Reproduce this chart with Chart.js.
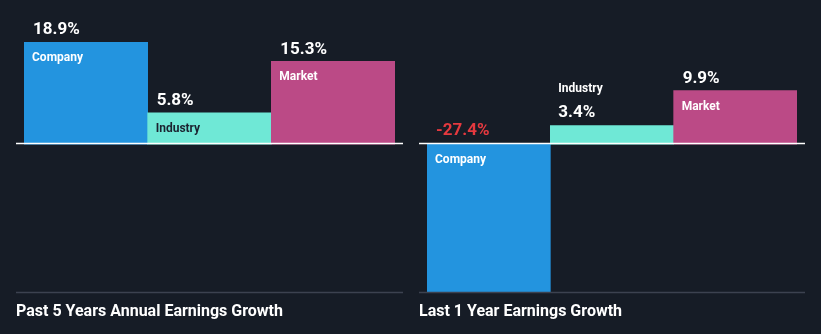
<!DOCTYPE html>
<html>
<head>
<meta charset="utf-8">
<script src="https://cdn.jsdelivr.net/npm/chart.js@4.4.0/dist/chart.umd.min.js"></script>
<style>
  html, body { margin: 0; padding: 0; background: #161c26; }
  #wrap { position: relative; width: 821px; height: 334px; }
  .box { position: absolute; top: 0; height: 334px; }
</style>
</head>
<body>
<div id="wrap">
  <div class="box" style="left:0;width:410px"><canvas id="pastChart"></canvas></div>
  <div class="box" style="left:410px;width:411px"><canvas id="lastChart"></canvas></div>
</div>
<script>
// данные
const categories = ['Company', 'Industry', 'Market'];
const past5Years = [18.9, 5.8, 15.3];
const last1Year = [-27.4, 3.4, 9.9];
const titles = ['Past 5 Years Annual Earnings Growth', 'Last 1 Year Earnings Growth'];
const barColors = ['#2394df', '#6fe8d6', '#bb4a86'];
const nameColors = ['#ffffff', '#1b2330', '#ffffff'];

const yMin = Math.min(...past5Years, ...last1Year);
const yMax = Math.max(...past5Years, ...last1Year);

// подписи, нулевая линия и заголовок
const labelsPlugin = {
  id: 'labels',
  afterDatasetsDraw(chart, args, opts) {
    const ctx = chart.ctx;
    const area = chart.chartArea;
    const zeroY = chart.scales.y.getPixelForValue(0) - 0.5;
    const x0 = area.left - 8, x1 = area.right + 8;

    ctx.save();
    ctx.strokeStyle = '#3c4250';
    ctx.lineWidth = 1.5;
    ctx.beginPath();
    ctx.moveTo(x0, area.bottom + 0.5);
    ctx.lineTo(x1, area.bottom + 0.5);
    ctx.stroke();

    ctx.strokeStyle = '#ffffff';
    ctx.lineWidth = 1.5;
    ctx.beginPath();
    ctx.moveTo(x0, zeroY);
    ctx.lineTo(x1, zeroY);
    ctx.stroke();

    const data = chart.data.datasets[0].data;
    chart.getDatasetMeta(0).data.forEach((bar, i) => {
      const v = data[i];
      const left = bar.x - bar.width / 2 + 8;
      const h = Math.abs(bar.base - bar.y);
      ctx.textAlign = 'left';
      ctx.textBaseline = 'middle';
      const valText = v.toFixed(1) + '%';
      if (v < 0) {
        ctx.font = 'bold 17px Roboto';
        ctx.fillStyle = '#e5393f';
        ctx.fillText(valText, left + 1, bar.base - 13);
        ctx.font = 'bold 12px Roboto';
        ctx.fillStyle = nameColors[i];
        ctx.fillText(categories[i], left, bar.base + 16);
      } else if (h < 25) {
        ctx.font = 'bold 17px Roboto';
        ctx.fillStyle = '#ffffff';
        ctx.fillText(valText, left, bar.y - 13);
        ctx.font = 'bold 12px Roboto';
        ctx.fillText(categories[i], left, bar.y - 37);
      } else {
        ctx.font = 'bold 17px Roboto';
        ctx.fillStyle = '#ffffff';
        ctx.fillText(valText, left + 1, bar.y - 12);
        ctx.font = 'bold 12px Roboto';
        ctx.fillStyle = nameColors[i];
        ctx.fillText(categories[i], left, bar.y + 16);
      }
    });

    ctx.font = 'bold 16px Roboto';
    ctx.fillStyle = '#ffffff';
    ctx.textBaseline = 'middle';
    ctx.fillText(opts.title, x0, 312);
    ctx.restore();
  }
};

function makeChart(id, values, title, padLeft, padRight) {
  return new Chart(document.getElementById(id).getContext('2d'), {
    type: 'bar',
    data: {
      labels: categories,
      datasets: [{
        data: values,
        backgroundColor: barColors,
        borderWidth: 0,
        categoryPercentage: 1,
        barPercentage: 1
      }]
    },
    options: {
      responsive: true,
      maintainAspectRatio: false,
      animation: false,
      layout: { padding: { left: padLeft, right: padRight, top: 42, bottom: 42 } },
      scales: {
        x: { display: false },
        y: { display: false, min: yMin, max: yMax }
      },
      plugins: {
        legend: { display: false },
        tooltip: { enabled: false },
        labels: { title: title }
      }
    },
    plugins: [labelsPlugin]
  });
}

makeChart('pastChart', past5Years, titles[0], 24, 15);
makeChart('lastChart', last1Year, titles[1], 17, 24);
</script>
</body>
</html>
